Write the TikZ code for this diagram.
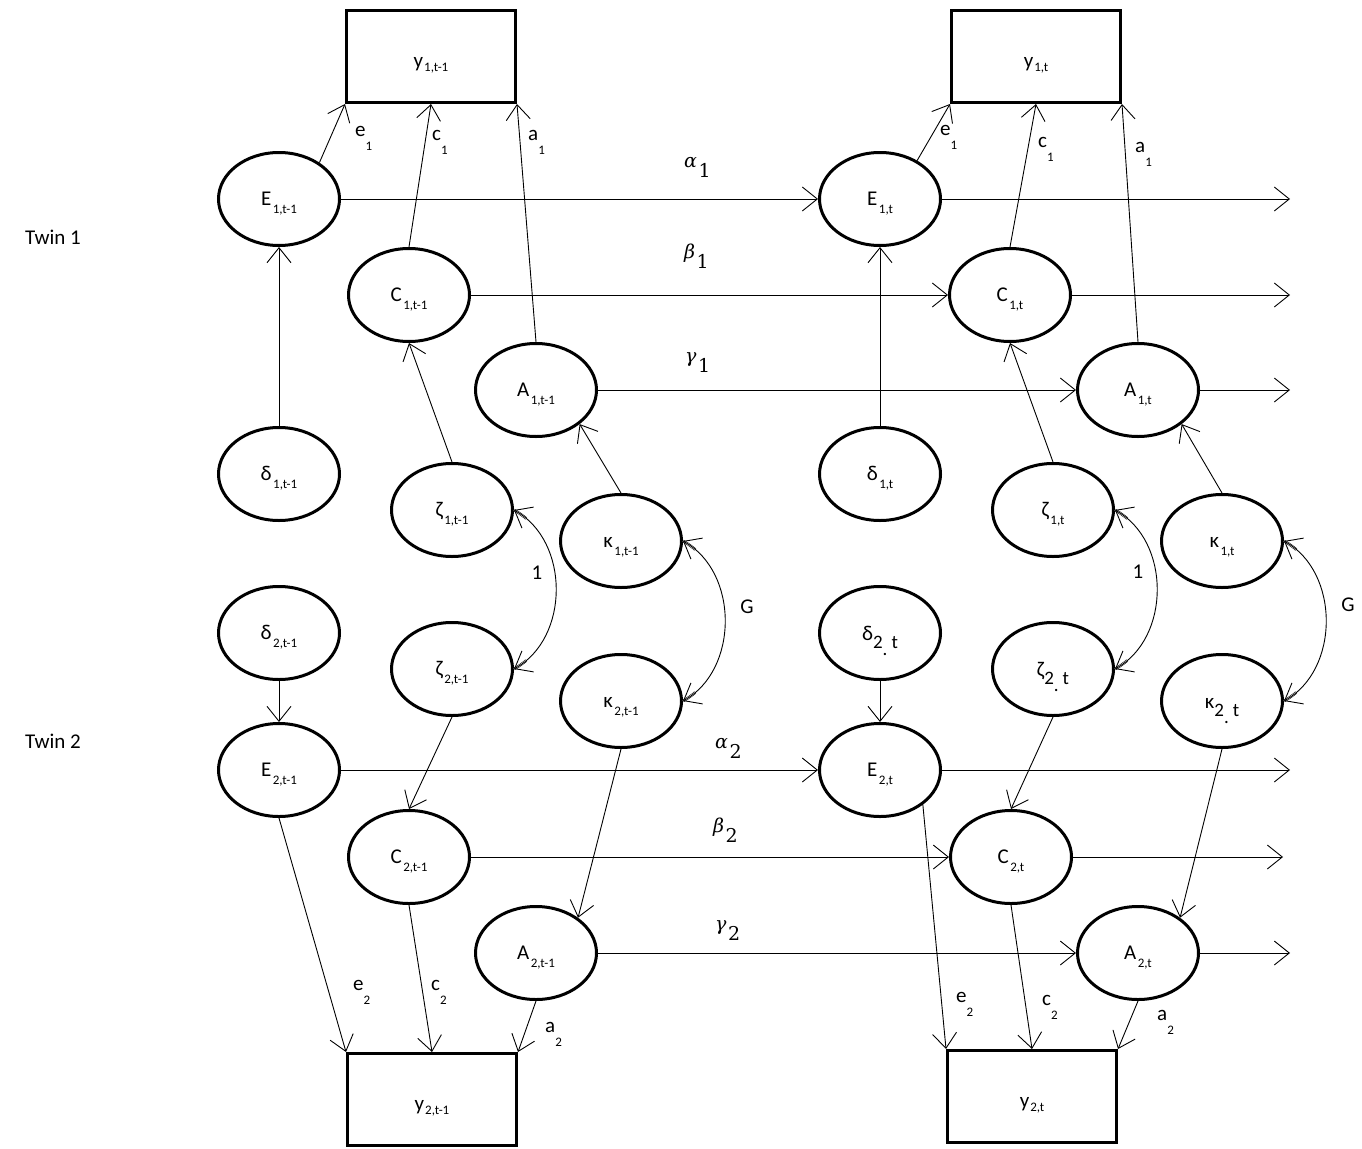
\documentclass[tikz,border=0pt]{standalone}
\usepackage{fontspec}
\setmainfont{Carlito}
\newfontfamily\grkfont{DejaVu Serif}
\usetikzlibrary{arrows.meta,shapes.geometric}

% label helpers
\newcommand{\nlab}[2]{\raisebox{-6pt}[0pt][0pt]{#1\hspace{1.5pt}\raisebox{-8pt}{\fontsize{13}{13}\selectfont #2}}}
\newcommand{\dlab}[1]{\raisebox{-7pt}[0pt][0pt]{#1\raisebox{-8pt}{\fontsize{19}{19}\selectfont 2\raisebox{-7pt}{.}\hspace{4pt}t}}}
\newcommand{\blab}[1]{\raisebox{-11pt}[0pt][0pt]{y\hspace{1pt}\raisebox{-4pt}{\fontsize{13}{13}\selectfont #1}}}
\newcommand{\elab}[2]{#1\raisebox{-14pt}{\fontsize{13}{13}\selectfont #2}}
\newcommand{\glab}[2]{{\grkfont\fontsize{19}{19}\selectfont\itshape #1\upshape\hspace{1.5pt}\raisebox{-10pt}{#2}}}

\tikzset{
  every node/.style={font=\fontsize{21}{25}\selectfont},
  lat/.style={ellipse, draw, line width=3pt, minimum width=121pt, minimum height=93pt, inner sep=0pt},
  obs/.style={rectangle, draw, line width=3pt, minimum width=169pt, minimum height=92pt, inner sep=0pt},
  barb/.tip={Straight Barb[length=15pt,width=24pt]},
  conn/.style={line width=0.9pt, -barb},
  cov/.style={line width=0.9pt, barb-barb},
  covend/.style={double, double distance=1.5pt, line width=0.55pt, dash pattern=on 15pt off 600pt},
  elabel/.style={anchor=base west, inner sep=0pt},
}

\begin{document}
\begin{tikzpicture}[x=1pt,y=-1pt]
\useasboundingbox (0,0) rectangle (1362,1148);

% observed scores
\node[obs] (Y1a) at (431,56.5) {\blab{1,t-1}};
\node[obs] (Y1b) at (1036,56.5) {\blab{1,t}};
\node[obs] (Y2a) at (432,1099.5) {\blab{2,t-1}};
\node[obs] (Y2b) at (1032,1096.5) {\blab{2,t}};

% latent factors, occasion t-1
\node[lat] (E1a) at (279,199) {\nlab{E}{1,t-1}};
\node[lat] (C1a) at (409,295) {\nlab{C}{1,t-1}};
\node[lat] (A1a) at (536,390) {\nlab{A}{1,t-1}};
\node[lat] (d1a) at (279,474) {\nlab{δ}{1,t-1}};
\node[lat] (z1a) at (452,510) {\nlab{ζ}{1,t-1}};
\node[lat] (k1a) at (621,541) {\nlab{κ}{1,t-1}};
\node[lat] (d2a) at (279,633) {\nlab{δ}{2,t-1}};
\node[lat] (z2a) at (452,669) {\nlab{ζ}{2,t-1}};
\node[lat] (k2a) at (621,701) {\nlab{κ}{2,t-1}};
\node[lat] (E2a) at (279,770) {\nlab{E}{2,t-1}};
\node[lat] (C2a) at (409,857) {\nlab{C}{2,t-1}};
\node[lat] (A2a) at (536,953) {\nlab{A}{2,t-1}};

% latent factors, occasion t
\node[lat] (E1b) at (880,199) {\nlab{E}{1,t}};
\node[lat] (C1b) at (1010,295) {\nlab{C}{1,t}};
\node[lat] (A1b) at (1138,390) {\nlab{A}{1,t}};
\node[lat] (d1b) at (880,474) {\nlab{δ}{1,t}};
\node[lat] (z1b) at (1053,510) {\nlab{ζ}{1,t}};
\node[lat] (k1b) at (1222,541) {\nlab{κ}{1,t}};
\node[lat] (d2b) at (880,633) {\dlab{δ}};
\node[lat] (z2b) at (1053,669) {\dlab{ζ}};
\node[lat] (k2b) at (1222,701) {\dlab{κ}};
\node[lat] (E2b) at (880,770) {\nlab{E}{2,t}};
\node[lat] (C2b) at (1011,857) {\nlab{C}{2,t}};
\node[lat] (A2b) at (1138,953) {\nlab{A}{2,t}};

% twin labels
\node (tw1) at (53,237) {Twin 1};
\node (tw2) at (53,741) {Twin 2};

% open ends of the autoregressive paths
\coordinate (oE1) at (1290,199);
\coordinate (oC1) at (1290,295);
\coordinate (oA1) at (1290,390);
\coordinate (oE2) at (1290,770);
\coordinate (oC2) at (1283,857);
\coordinate (oA2) at (1290,953);

% loadings, twin 1
\draw[conn] (E1a.42) -- (Y1a.south west);
\draw[conn] (C1a.north) -- (Y1a.south);
\draw[conn] (A1a.north) -- (Y1a.south east);
\draw[conn] (E1b.46) -- (Y1b.south west);
\draw[conn] (C1b.north) -- (Y1b.south);
\draw[conn] (A1b.north) -- (Y1b.south east);

% loadings, twin 2
\draw[conn] (E2a.south) -- (Y2a.north west);
\draw[conn] (C2a.south) -- (Y2a.north);
\draw[conn] (A2a.south) -- (Y2a.north east);
\draw[conn] (E2b.-39) -- (Y2b.north west);
\draw[conn] (C2b.south) -- (Y2b.north);
\draw[conn] (A2b.south) -- (Y2b.north east);

% innovations
\draw[conn] (d1a.north) -- (E1a.south);
\draw[conn] (z1a.north) -- (C1a.south);
\draw[conn] (k1a.north) -- (A1a.-38);
\draw[conn] (d1b.north) -- (E1b.south);
\draw[conn] (z1b.north) -- (C1b.south);
\draw[conn] (k1b.north) -- (A1b.-38);
\draw[conn] (d2a.south) -- (E2a.north);
\draw[conn] (z2a.south) -- (C2a.north);
\draw[conn] (k2a.south) -- (A2a.40);
\draw[conn] (d2b.south) -- (E2b.north);
\draw[conn] (z2b.south) -- (C2b.north);
\draw[conn] (k2b.south) -- (A2b.40);

% autoregressive paths
\draw[conn] (E1a.east) -- (E1b.west);
\draw[conn] (C1a.east) -- (C1b.west);
\draw[conn] (A1a.east) -- (A1b.west);
\draw[conn] (E2a.east) -- (E2b.west);
\draw[conn] (C2a.east) -- (C2b.west);
\draw[conn] (A2a.east) -- (A2b.west);
\draw[conn] (E1b.east) -- (oE1);
\draw[conn] (C1b.east) -- (oC1);
\draw[conn] (A1b.east) -- (oA1);
\draw[conn] (E2b.east) -- (oE2);
\draw[conn] (C2b.east) -- (oC2);
\draw[conn] (A2b.east) -- (oA2);

% covariances between the twins' innovations
\foreach \u/\v in {z1a/z2a, k1a/k2a, z1b/z2b, k1b/k2b}{
  \draw[covend] (\u.east) .. controls +(56,31) and +(56,-31) .. (\v.east);
  \draw[covend] (\v.east) .. controls +(56,-31) and +(56,31) .. (\u.east);
  \draw[cov] (\u.east) .. controls +(56,31) and +(56,-31) .. (\v.east);
}
\node (r1a) at (537,573) {1};
\node (ga)  at (747,607) {G};
\node (r1b) at (1138,572) {1};
\node (gb)  at (1348,605) {G};

% path coefficients
\node[elabel] (le1a) at (355,136) {\elab{e}{1}};
\node[elabel] (lc1a) at (432,140) {\elab{c}{1}};
\node[elabel] (la1a) at (528,140) {\elab{a}{1}};
\node[elabel] (le1b) at (940,135) {\elab{e}{1}};
\node[elabel] (lc1b) at (1038,147) {\elab{c}{1}};
\node[elabel] (la1b) at (1135,152) {\elab{a}{1}};
\node[elabel] (le2a) at (353,990) {\elab{e}{2}};
\node[elabel] (lc2a) at (431,990) {\elab{c}{2}};
\node[elabel] (la2a) at (545,1032) {\elab{a}{2}};
\node[elabel] (le2b) at (956,1002) {\elab{e}{2}};
\node[elabel] (lc2b) at (1042,1005) {\elab{c}{2}};
\node[elabel] (la2b) at (1157,1020) {\elab{a}{2}};

\node[elabel] (al1) at (684,167) {\glab{α}{1}};
\node[elabel] (be1) at (684,258) {\glab{β}{1}};
\node[elabel] (ga1) at (685,362) {\glab{γ}{1}};
\node[elabel] (al2) at (715,748) {\glab{α}{2}};
\node[elabel] (be2) at (713,832) {\glab{β}{2}};
\node[elabel] (ga2) at (715,930) {\glab{γ}{2}};
\end{tikzpicture}
\end{document}
